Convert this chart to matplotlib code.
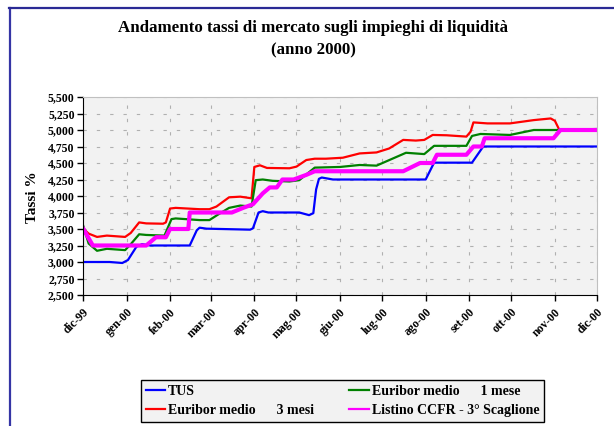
import numpy as np
import matplotlib.pyplot as plt
from matplotlib.lines import Line2D

plt.rcParams['font.family'] = ['Liberation Serif', 'DejaVu Serif']
plt.rcParams['font.weight'] = 'bold'

# giorni dal 1 dic 1999 e valori
start = np.datetime64('1999-12-01')

tus_d = [0, 19, 28, 32, 38, 42, 48, 76, 81, 83, 88, 119, 121, 125, 128, 132, 154, 161, 164, 166, 168, 170, 178, 244, 250, 277, 285, 366]
tus_v = [3.00, 3.00, 2.985, 3.03, 3.23, 3.27, 3.25, 3.25, 3.48, 3.52, 3.505, 3.49, 3.51, 3.75, 3.77, 3.75, 3.75, 3.71, 3.74, 4.10, 4.26, 4.28, 4.25, 4.25, 4.505, 4.505, 4.75, 4.75]

eur3_d = [0, 4, 10, 17, 30, 34, 40, 45, 57, 59, 62, 66, 83, 90, 95, 104, 112, 120, 122, 126, 131, 147, 152, 159, 165, 173, 185, 197, 209, 218, 228, 237, 243, 249, 259, 273, 276, 278, 288, 304, 321, 333, 336, 339, 366]
eur3_v = [3.51, 3.43, 3.38, 3.40, 3.38, 3.44, 3.60, 3.585, 3.58, 3.60, 3.81, 3.82, 3.80, 3.80, 3.84, 3.98, 3.99, 3.965, 4.44, 4.465, 4.425, 4.42, 4.445, 4.545, 4.565, 4.565, 4.58, 4.645, 4.66, 4.72, 4.85, 4.84, 4.85, 4.925, 4.92, 4.90, 4.975, 5.115, 5.10, 5.10, 5.15, 5.175, 5.14, 5.01, 5.01]

eur1_d = [0, 4, 10, 17, 30, 34, 40, 45, 58, 63, 66, 83, 90, 97, 104, 112, 120, 123, 128, 135, 147, 154, 165, 183, 197, 209, 230, 243, 250, 273, 277, 283, 304, 321, 337, 366]
eur1_v = [3.56, 3.28, 3.17, 3.20, 3.18, 3.27, 3.42, 3.41, 3.40, 3.65, 3.66, 3.635, 3.635, 3.73, 3.82, 3.855, 3.84, 4.24, 4.25, 4.23, 4.22, 4.24, 4.43, 4.44, 4.47, 4.46, 4.655, 4.635, 4.76, 4.76, 4.91, 4.94, 4.925, 5.00, 5.00, 5.015]

ccfr_d = [0, 7, 45, 52, 59, 62, 75, 76, 106, 114, 121, 128, 133, 138, 142, 150, 159, 165, 228, 240, 249, 252, 273, 278, 284, 286, 335, 340, 366]
ccfr_v = [3.51, 3.25, 3.25, 3.375, 3.375, 3.50, 3.50, 3.75, 3.75, 3.82, 3.875, 4.04, 4.13, 4.13, 4.25, 4.25, 4.32, 4.375, 4.375, 4.50, 4.50, 4.625, 4.625, 4.75, 4.75, 4.875, 4.875, 5.00, 5.00]

mesi = ['dic-99', 'gen-00', 'feb-00', 'mar-00', 'apr-00', 'mag-00', 'giu-00',
        'lug-00', 'ago-00', 'set-00', 'ott-00', 'nov-00', 'dic-00']
y_ticks = [2.5, 2.75, 3.0, 3.25, 3.5, 3.75, 4.0, 4.25, 4.5, 4.75, 5.0, 5.25, 5.5]


def to_dates(days):
    return start + np.array(days).astype('timedelta64[D]')


fig = plt.figure(figsize=(6.14, 4.26), dpi=100)
ax = fig.add_axes([83/614, 1-295/426, 514/614, 198/426])
ax.set_facecolor('#f2f2f2')

l_tus, = ax.plot(to_dates(tus_d), tus_v, color='#0000ff', lw=1.6)
l_e3, = ax.plot(to_dates(eur3_d), eur3_v, color='#ff0000', lw=1.6)
l_e1, = ax.plot(to_dates(eur1_d), eur1_v, color='#008000', lw=1.6)
l_cc, = ax.plot(to_dates(ccfr_d), ccfr_v, color='#ff00ff', lw=3)

month_pos = np.arange('1999-12', '2001-01', dtype='datetime64[M]').astype('datetime64[D]')
ax.set_xticks(month_pos)
ax.set_xticklabels(mesi, rotation=45, ha='right', rotation_mode='anchor')
ax.set_xlim(month_pos[0], month_pos[-1])
ax.set_ylim(2.5, 5.5)
ax.set_yticks(y_ticks)
ax.set_yticklabels([f'{v:.3f}'.replace('.', ',') for v in y_ticks])
ax.tick_params(labelsize=8.5, length=4, width=1, pad=2)
ax.tick_params(axis='x', pad=4)

ax.grid(True, color='#b0b0b0', linestyle=(0, (3, 9)), lw=0.8)
ax.set_axisbelow(True)
for s in ['top', 'right']:
    ax.spines[s].set_color('#c0c0c0')
for s in ['left', 'bottom']:
    ax.spines[s].set_color('black')

fig.text(313/614, 1-28/426, 'Andamento tassi di mercato sugli impieghi di liquidità',
         ha='center', va='center', fontsize=12.2, fontweight='bold')
fig.text(313/614, 1-50/426, '(anno 2000)', ha='center', va='center',
         fontsize=12.2, fontweight='bold')
fig.text(33/614, 1-197/426, 'Tassi %', rotation=90, ha='center', va='center',
         fontsize=11, fontweight='bold')

leg = fig.legend([l_tus, l_e3, l_e1, l_cc],
                 ['TUS', 'Euribor medio      3 mesi', 'Euribor medio      1 mese',
                  'Listino CCFR - 3° Scaglione'],
                 ncol=2, loc='lower left', mode='expand',
                 bbox_to_anchor=(141/614, 1-422/426, 403/614, 43/426),
                 bbox_transform=fig.transFigure, fancybox=False,
                 edgecolor='black', facecolor='#f2f2f2', framealpha=1,
                 fontsize=10, handlelength=1.4, handletextpad=0.2,
                 borderpad=0.35, labelspacing=0.45, borderaxespad=0)
leg.get_frame().set_linewidth(1)
for h in leg.get_lines():
    h.set_linewidth(1.6)

# cornice blu
fig.add_artist(Line2D([9.5/614, 9.5/614], [0, 1-8/426], color='#3535a5', lw=1.6))
fig.add_artist(Line2D([9/614, 1], [1-8/426, 1-8/426], color='#2a2a95', lw=1.6))

fig.savefig('out.png', dpi=100)
